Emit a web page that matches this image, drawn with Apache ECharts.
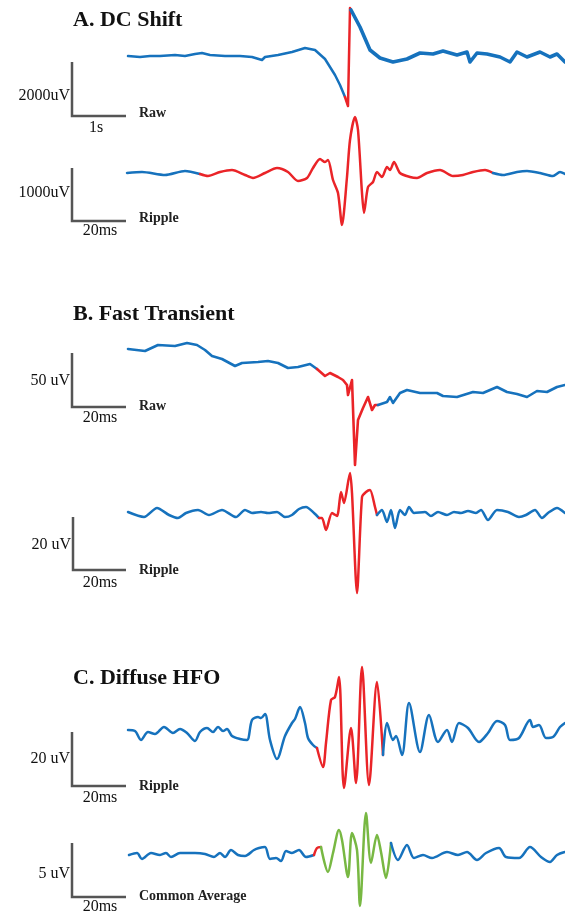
<!DOCTYPE html>
<html><head><meta charset="utf-8">
<script src="https://cdn.jsdelivr.net/npm/echarts@6/dist/echarts.min.js"></script>
<style>html,body{margin:0;padding:0;background:#fff}#c{width:565px;height:916px}</style>
</head><body><div id="c"></div>
<script>
// ---- data (time offset, amplitude) ----
const aRawT = [1,13,23,33,48,58,68,75,83,98,113,125,135,138,151,165,178,188,198,208,213,218,221,223,224,233,243,253,266,280,293,306,316,330,340,343,350,360,373,383,390,400,413,423,430,438];
const aRawV = [0,-1,0,0,1,0,2,3,1,0,0,-1,-4,-1,1,4,8,6,-3,-19,-29,-41,-50,48,46,29,6,-2,-6,-3,3,2,5,1,4,-6,3,2,-1,-6,4,-1,4,-1,2,-6];

const aRipT = [0,15,38,58,73,81,93,105,118,126,138,150,161,171,180,186,193,198,201,206,211,215,220,223,228,231,235,237,241,246,250,255,260,263,267,273,283,290,300,313,326,336,346,358,366,376,390,400,413,426,433,438];
const aRipV = [0,1,-2,2,-1,-3,1,3,-2,-5,0,5,1,-8,-5,5,14,11,13,-7,-20,-52,-4,33,56,43,-20,-40,-14,-9,1,-4,6,3,11,0,-4,-5,0,3,-3,-2,1,3,0,-2,1,2,0,-3,1,-1];

const bRawT = [1,18,31,48,60,70,78,85,95,108,115,131,141,151,161,171,183,190,198,203,211,216,220,221,225,228,231,236,241,245,248,251,260,263,266,273,280,293,310,316,330,346,356,370,380,390,400,410,420,430,438];
const bRawV = [41,39,45,44,47,45,40,34,31,24,27,28,29,27,22,23,26,21,14,17,13,10,5,-5,10,-75,-30,-18,-7,-20,-15,-15,-12,-7,-13,-3,0,-3,-3,-6,-7,-2,-3,3,-2,-4,-7,-1,-2,3,5];

const bRipT = [1,17,30,42,51,59,71,82,95,109,118,125,134,141,150,158,165,172,179,187,192,195,199,205,210,214,217,223,225,230,235,239,243,248,250,255,260,264,268,273,278,282,287,298,304,311,320,327,334,341,349,354,361,370,381,392,399,408,415,421,430,438];
const bRipV = [1,-4,5,-2,-5,0,3,-2,3,-4,3,0,1,0,1,-4,-2,4,6,0,-5,-5,-17,0,-3,21,10,40,20,-80,16,21,23,6,-2,3,-9,3,-15,3,-2,6,0,1,-3,1,-2,1,0,2,0,3,-7,3,1,-4,-2,3,-5,0,5,0];

const cRipT = [1,8,14,21,28,37,46,53,60,68,73,80,86,91,96,100,105,113,120,125,131,134,138,143,150,158,165,168,173,178,181,186,190,196,199,204,208,212,217,224,229,235,242,250,256,260,266,269,275,282,293,302,311,320,325,332,341,352,361,370,378,383,392,403,406,412,419,426,433,438];
const cRipV = [6,5,-4,4,2,9,3,7,3,-5,4,8,4,9,5,7,0,-3,-4,16,19,18,22,-4,-23,0,13,17,29,13,-2,-9,-12,-31,-7,36,39,59,-52,8,-47,69,-49,54,-19,13,-4,0,-19,33,-16,21,-6,6,-6,13,8,-6,3,15,11,-4,-2,16,9,11,-2,-1,9,13];

const cComT = [2,10,15,24,33,39,44,53,68,78,87,93,98,104,111,118,127,132,138,143,149,154,159,165,172,179,187,190,194,201,206,212,215,221,225,230,233,239,244,250,254,259,264,271,280,287,296,305,320,331,340,350,359,372,379,392,403,414,423,430,438];
const cComV = [1,3,-3,3,1,3,-1,3,3,2,-1,3,-1,6,1,0,6,8,9,-3,-2,-5,5,3,6,-1,1,8,9,-16,3,26,16,-21,23,6,-50,43,-7,21,4,-22,13,-4,11,-2,1,-2,4,1,4,-4,3,8,-1,-2,9,-1,-6,1,4];

// highlighted event windows [start, end, kind]
const aRawSeg = [[0,218,'n'],[218,224,'r'],[224,438,'n']];
const aRipSeg = [[0,73,'n'],[73,366,'r'],[366,438,'n']];
const bRawSeg = [[0,190,'n'],[190,251,'r'],[251,438,'n']];
const bRipSeg = [[0,192,'n'],[192,250,'r'],[250,438,'n']];
const cRipSeg = [[0,190,'n'],[190,256,'r'],[256,438,'n']];
const cComSeg = [[0,187,'n'],[187,194,'r'],[194,264,'g'],[264,438,'n']];

const panelTitles = ['A. DC Shift','B. Fast Transient','C. Diffuse HFO'];
const ampLabels = ['2000uV','1000uV','50 uV','20 uV','20 uV','5 uV'];
const timeLabels = ['1s','20ms','20ms','20ms','20ms','20ms'];
const traceLabels = ['Raw','Ripple','Raw','Ripple','Ripple','Common Average'];

// ---- layout / style ----
const COL = {n:'#1672bd', r:'#ea2428', g:'#78b843'};
const traces = [
  {t:aRawT, v:aRawV, seg:aRawSeg, top:0,   h:120, min:-64, max:56, smooth:false, w:[2.5,2.5,3.6]},
  {t:aRipT, v:aRipV, seg:aRipSeg, top:110, h:125, min:-62, max:63, smooth:0.25, w:[2.5]},
  {t:bRawT, v:bRawV, seg:bRawSeg, top:330, h:140, min:-80, max:60, smooth:false, w:[2.6]},
  {t:bRipT, v:bRipV, seg:bRipSeg, top:460, h:140, min:-87, max:53, smooth:0.25, w:[2.5]},
  {t:cRipT, v:cRipV, seg:cRipSeg, top:655, h:145, min:-64, max:81, smooth:0.3, w:[2.5]},
  {t:cComT, v:cComV, seg:cComSeg, top:805, h:111, min:-60, max:51, smooth:0.3, w:[2.5]}
];
const bars = [ // scale-bar geometry [x, yTop, yBottom, xRight]
  [72,62,116,126],[72,168,221,126],[72,353,407,126],[73,517,570,126],[72,732,786,126],[72,843,897,126]
];
const labelY = [ // [amp label y, trace label y, time label y]
  [96,113,128],[193,218,231],[381,406,418],[545,570,583],[759,786,798],[874,896,907]
];
const titleY = [20,314,678];

const grid=[], xAxis=[], yAxis=[], series=[];
traces.forEach((tr,i)=>{
  grid.push({left:127, width:438, top:tr.top, height:tr.h});
  xAxis.push({type:'value', gridIndex:i, min:0, max:438, show:false});
  yAxis.push({type:'value', gridIndex:i, min:tr.min, max:tr.max, show:false});
  const pts = tr.t.map((x,k)=>[x, tr.v[k]]);
  tr.seg.forEach((s,j)=>{
    series.push({
      type:'line', xAxisIndex:i, yAxisIndex:i, showSymbol:false, symbol:'none',
      smooth:tr.smooth, clip:false, animation:false,
      lineStyle:{color:COL[s[2]], width:tr.w[Math.min(j,tr.w.length-1)], cap:'round', join:'round'},
      data: pts.filter(p=>p[0]>=s[0] && p[0]<=s[1])
    });
  });
});

const graphic = [];
const SERIF = '"Liberation Serif","Times New Roman",serif';
panelTitles.forEach((t,i)=>graphic.push({type:'text', x:73, y:titleY[i],
  style:{text:t, font:'bold 22px '+SERIF, fill:'#111', align:'left', verticalAlign:'middle'}}));
bars.forEach((b,i)=>{
  graphic.push({type:'polyline', shape:{points:[[b[0],b[1]],[b[0],b[2]],[b[3],b[2]]]},
    style:{stroke:'#555', lineWidth:2.5, fill:null}});
  graphic.push({type:'text', x:b[0]-2, y:labelY[i][0],
    style:{text:ampLabels[i], font:'16px '+SERIF, fill:'#111', align:'right', verticalAlign:'middle'}});
  graphic.push({type:'text', x:139, y:labelY[i][1],
    style:{text:traceLabels[i], font:'bold 14px '+SERIF, fill:'#222', align:'left', verticalAlign:'middle'}});
  graphic.push({type:'text', x:i===0?96:100, y:labelY[i][2],
    style:{text:timeLabels[i], font:'16px '+SERIF, fill:'#111', align:'center', verticalAlign:'middle'}});
});

const chart = echarts.init(document.getElementById('c'), null, {renderer:'canvas'});
chart.setOption({animation:false, backgroundColor:'#fff', grid, xAxis, yAxis, series, graphic});
</script></body></html>
